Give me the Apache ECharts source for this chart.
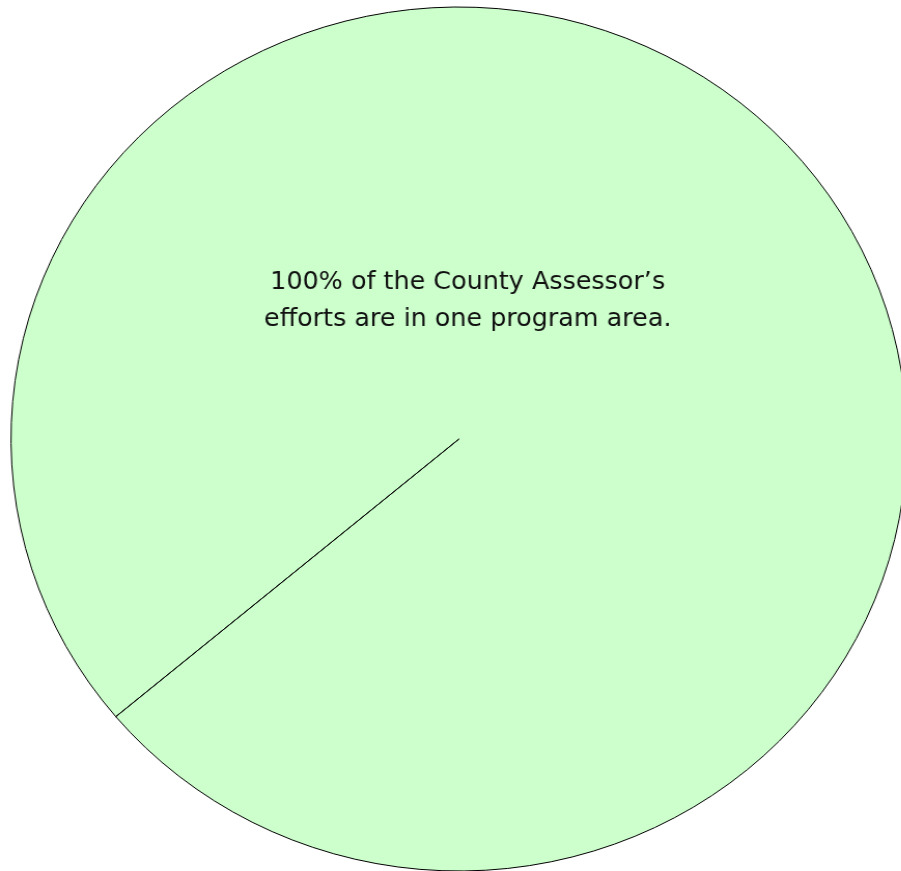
<!DOCTYPE html>
<html><head><meta charset="utf-8">
<script src="https://cdn.jsdelivr.net/npm/echarts@6/dist/echarts.min.js"></script>
<style>
html,body{margin:0;padding:0;background:#fff;overflow:hidden;}
#wrap{width:901px;height:871px;overflow:hidden;position:relative;}
#chart{width:869px;height:871px;transform:scaleX(1.037);transform-origin:0 0;}
</style></head>
<body><div id="wrap"><div id="chart"></div></div>
<script>
const categories = ['County Assessor program area', ''];
const values = [100, 0];
const titleLines = ["100% of the County Assessor’s", "efforts are in one program area."];

const chart = echarts.init(document.getElementById('chart'), null, {renderer:'canvas'});
chart.setOption({
  animation:false,
  backgroundColor:'#ffffff',
  title:{
    text: titleLines.join('\n'),
    left: 446, top: 259, textAlign:'center',
    textStyle:{fontFamily:'DejaVu Sans', fontSize:24.5, fontWeight:'normal', color:'#111111', lineHeight:37}
  },
  series:[{
    type:'pie',
    center:[442.6, 439],
    radius:[0, 432],
    startAngle:220,
    clockwise:true,
    silent:true,
    label:{show:false},
    labelLine:{show:false},
    itemStyle:{color:'#ccffcc', borderColor:'#000000', borderWidth:1},
    emphasis:{disabled:true},
    data: categories.map((c,i)=>({name:c, value:values[i]}))
  }]
});
</script></body></html>
